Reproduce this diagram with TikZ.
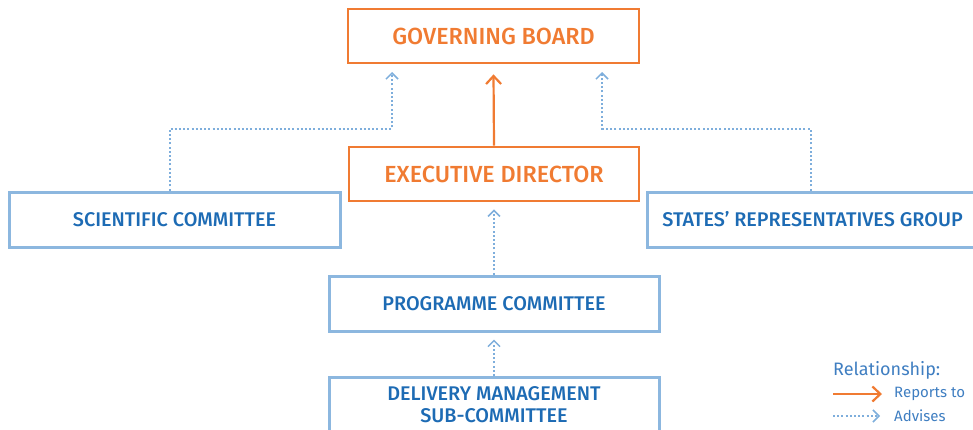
\documentclass[tikz,border=0pt]{standalone}
\usepackage{fontspec}
\setmainfont{Fira Sans}[UprightFont=* Medium]
\newfontfamily\legendfont{Fira Sans}
\usetikzlibrary{arrows.meta}

\definecolor{boardorange}{HTML}{F07B32}
\definecolor{boxblue}{HTML}{8CB7DF}
\definecolor{textblue}{HTML}{1D6BB4}
\definecolor{dotblue}{HTML}{7EAEDC}
\definecolor{legendblue}{HTML}{3F7EC1}

\begin{document}
\begin{tikzpicture}[x=1pt,y=-1pt,
    orangebox/.style={draw=boardorange,line width=2.8,text=boardorange,
      minimum height=54,font=\fontsize{23.3}{27}\selectfont},
    bluebox/.style={draw=boxblue,line width=3,text=textblue,align=center,
      minimum height=55,font=\fontsize{19.8}{22}\selectfont},
    legendtext/.style={text=legendblue,anchor=west,inner sep=2,font=\legendfont\fontsize{15}{17}\selectfont},
    reports/.style={draw=boardorange,line width=2.2,
      -{Straight Barb[length=8pt,width=15pt]}},
    advises/.style={draw=dotblue,line width=2,dash pattern=on 2pt off 2.2pt,
      -{Straight Barb[length=6pt,width=12pt,line width=1.5pt]}}]

  \useasboundingbox (0,0) rectangle (973,429);

  % Boxes
  \node[orangebox,minimum width=291] (gb) at (493.5,36) {GOVERNING BOARD};
  \node[orangebox,minimum width=290] (ed) at (494,174) {EXECUTIVE DIRECTOR};
  \node[bluebox,minimum width=331] (sci) at (174.5,219.5) {SCIENTIFIC COMMITTEE};
  \node[bluebox,minimum width=331] (srg) at (812.5,219.5) {STATES’ REPRESENTATIVES GROUP};
  \node[bluebox,minimum width=330] (prog) at (494,303.5) {PROGRAMME COMMITTEE};
  \node[bluebox,minimum width=330] (dms) at (494,405) {DELIVERY MANAGEMENT\\SUB-COMMITTEE};

  % Arrows
  \coordinate (gbleft) at (392,72);
  \coordinate (gbright) at (602,72);
  \draw[reports] (ed.north) -- ([yshift=-10]gb.south);
  \draw[advises] ([xshift=-5]sci.north) -- ++(0,-62) -| (gbleft);
  \draw[advises] ([xshift=-2]srg.north) -- ++(0,-62) -| (gbright);
  \draw[advises] (prog.north) -- ([yshift=-7]ed.south);
  \draw[advises] (dms.north) -- ([yshift=-7]prog.south);

  % Legend
  \node[legendtext,font=\legendfont\fontsize{18}{20}\selectfont] (rel) at (831,370) {Relationship:};
  \node[legendtext] (rep) at (892,394) {Reports to};
  \node[legendtext] (adv) at (892,416) {Advises};
  \coordinate (repstart) at (833,394);
  \coordinate (advstart) at (833,416);
  \draw[reports] (repstart) -- ([xshift=-10]rep.west);
  \draw[advises] (advstart) -- ([xshift=-12]adv.west);

\end{tikzpicture}
\end{document}
